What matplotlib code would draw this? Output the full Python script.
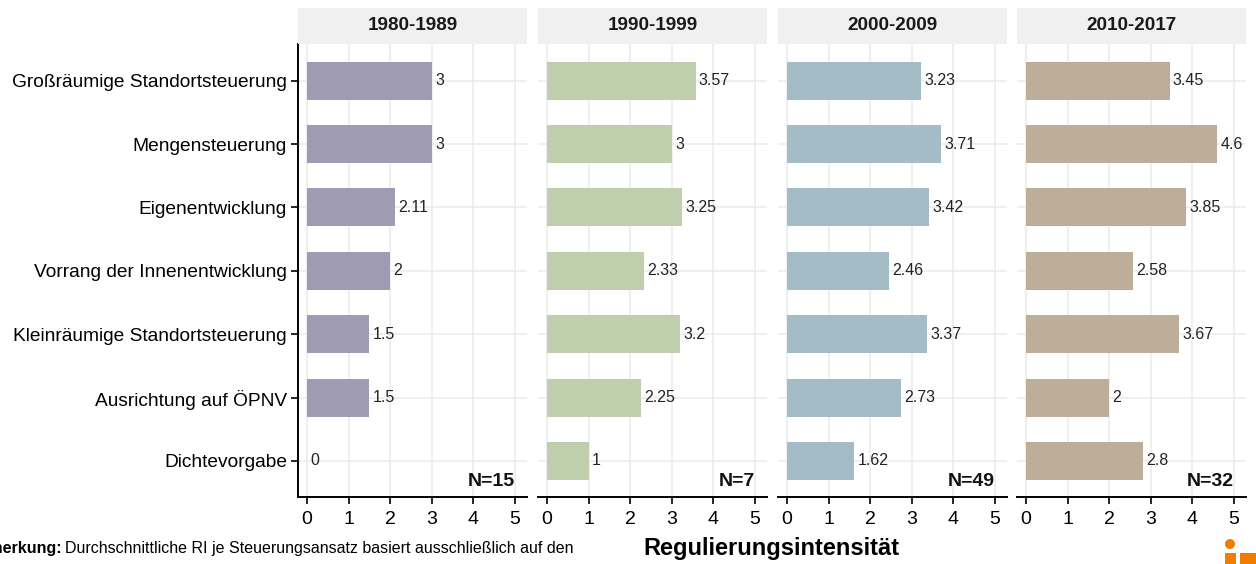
import matplotlib
matplotlib.use("Agg")
import matplotlib.pyplot as plt
from matplotlib.patches import Rectangle, Ellipse

plt.rcParams['font.family'] = ['Liberation Sans', 'DejaVu Sans']

categories = ["Großräumige Standortsteuerung", "Mengensteuerung", "Eigenentwicklung",
              "Vorrang der Innenentwicklung", "Kleinräumige Standortsteuerung",
              "Ausrichtung auf ÖPNV", "Dichtevorgabe"]
periods = ["1980-1989", "1990-1999", "2000-2009", "2010-2017"]
values_1980 = [3, 3, 2.11, 2, 1.5, 1.5, 0]
values_1990 = [3.57, 3, 3.25, 2.33, 3.2, 2.25, 1]
values_2000 = [3.23, 3.71, 3.42, 2.46, 3.37, 2.73, 1.62]
values_2010 = [3.45, 4.6, 3.85, 2.58, 3.67, 2, 2.8]
n_labels = ["N=15", "N=7", "N=49", "N=32"]
colors = ["#9e9bb3", "#bfcfae", "#a3bcc6", "#bcae99"]
all_values = [values_1980, values_1990, values_2000, values_2010]
x_ticks = [0, 1, 2, 3, 4, 5]

W, H = 1256, 564
fig = plt.figure(figsize=(W / 100, H / 100), dpi=100)

lefts = [298, 538, 778, 1017]
pw = 229
top_px, bot_px = 44, 497
strip_top = 8

def fx(px):
    return px / W

def fy(py):
    return 1 - py / H

for i, (vals, col, per, nl) in enumerate(zip(all_values, colors, periods, n_labels)):
    ax = fig.add_axes([fx(lefts[i]), fy(bot_px), fx(pw), (bot_px - top_px) / H])
    ypos = list(range(len(categories)))
    ax.barh(ypos, vals, height=0.6, color=col, zorder=2)
    for y, v in zip(ypos, vals):
        ax.text(v + 0.08, y, f"{v:g}", va='center', ha='left', fontsize=11.5, color='#222222', zorder=3)
    ax.set_xlim(-0.22, 5.29)
    ax.set_ylim(len(categories) - 1 + 0.57, -0.58)
    ax.set_xticks(x_ticks)
    ax.set_xticklabels([str(t) for t in x_ticks], fontsize=14)
    ax.set_yticks(ypos)
    ax.grid(True, color='#ebebeb', linewidth=1.1, zorder=0)
    ax.set_axisbelow(True)
    for s in ['top', 'right']:
        ax.spines[s].set_visible(False)
    ax.spines['bottom'].set_linewidth(1.4)
    ax.spines['bottom'].set_color('black')
    ax.tick_params(axis='x', length=5, width=1.2, pad=5, colors='black')
    if i == 0:
        ax.set_yticklabels(categories, fontsize=13.8)
        ax.spines['left'].set_linewidth(1.4)
        ax.tick_params(axis='y', length=5, width=1.2, pad=3)
    else:
        ax.spines['left'].set_visible(False)
        ax.set_yticklabels([])
        ax.tick_params(axis='y', length=0)
    ax.text(5.0, 6.33, nl, ha='right', va='center', fontsize=14, fontweight='bold', color='#111111')
    # strip
    fig.patches.append(Rectangle((fx(lefts[i]), fy(top_px)), fx(pw), (top_px - strip_top) / H,
                                 transform=fig.transFigure, facecolor='#f0f0f0', edgecolor='none'))
    fig.text(fx(lefts[i] + pw / 2), fy((top_px + strip_top) / 2), per, ha='center', va='center',
             fontsize=13.6, fontweight='bold', color='#1a1a1a')

fig.text(fx(771), fy(548), "Regulierungsintensität", ha='center', va='center', fontsize=17, fontweight='bold')
fig.text(fx(62), fy(549), "Anmerkung:", ha='right', va='center', fontsize=11.5, fontweight='bold')
fig.text(fx(65), fy(549), "Durchschnittliche RI je Steuerungsansatz basiert ausschließlich auf den",
         ha='left', va='center', fontsize=11.5)

# partial logo in corner
fig.patches.append(Ellipse((fx(1230), fy(544)), 10 / W, 10 / H, transform=fig.transFigure,
                           facecolor='#f07d00', edgecolor='none'))
fig.patches.append(Rectangle((fx(1225), fy(564)), 11 / W, 11 / H, transform=fig.transFigure,
                             facecolor='#f07d00', edgecolor='none'))
fig.patches.append(Rectangle((fx(1240), fy(564)), 16 / W, 11 / H, transform=fig.transFigure,
                             facecolor='#f07d00', edgecolor='none'))

fig.savefig("out.png", dpi=100)
